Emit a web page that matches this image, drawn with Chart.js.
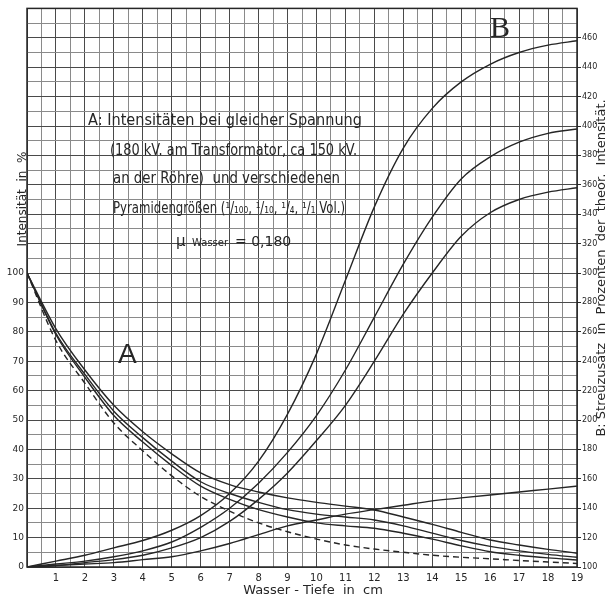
<!DOCTYPE html>
<html>
<head>
<meta charset="utf-8">
<script src="https://cdn.jsdelivr.net/npm/chart.js@4.4.0/dist/chart.umd.min.js"></script>
<style>
  html, body { margin: 0; padding: 0; background: #fff; }
</style>
</head>
<body>
<canvas id="c" width="609" height="600"></canvas>
<script>
// Wasser-Tiefe in cm
const depth = [0, 1, 2, 3, 4, 5, 6, 7, 8, 9, 10, 11, 12, 13, 14, 15, 16, 17, 18, 19];

// A: Intensität in % (linke Achse)
const intensA1 = [100, 81, 67, 55, 46, 38.5, 32, 28, 25.5, 23.5, 22, 20.7, 19.4, 17, 14.5, 11.8, 9.2, 7.5, 6, 4.7];
const intensA2 = [100, 79.5, 65.5, 53, 44, 36, 29, 25, 22, 19.5, 18, 17, 16, 14, 11.5, 9, 7, 5.5, 4.3, 3.3];
const intensA3 = [100, 79, 64.5, 51.5, 42.5, 34.5, 27.5, 23, 19.5, 17, 15, 14, 13.2, 11.5, 9.5, 7.2, 5.2, 4, 3.1, 2.4];
const intensA4 = [100, 77, 62.5, 49, 39.5, 31, 24, 19, 15, 12, 9.5, 7.5, 6.1, 5, 4, 3.3, 2.8, 2.2, 1.7, 1.2];

// B: Streuzusatz in % der theor. Intensität (rechte Achse)
const streuB1 = [100, 104, 108, 113, 118, 125, 135, 150, 172, 204, 245, 295, 345, 385, 412, 430, 442, 450, 455, 458];
const streuB2 = [100, 102, 104, 107, 111, 117, 127, 140, 157, 178, 203, 234, 270, 306, 338, 364, 379, 389, 395, 398];
const streuB3 = [100, 101, 103, 105, 108, 113, 120, 131, 146, 164, 186, 210, 240, 272, 300, 325, 341, 350, 355, 358];
const streuB4 = [100, 101, 102, 103, 105, 107, 111, 116, 122, 128, 132, 136, 139, 142, 145, 147, 149, 151, 153, 155];

const textLines = [
  'A: Intensitäten bei gleicher Spannung',
  '(180 kV. am Transformator, ca 150 kV.',
  'an der Röhre)  und verschiedenen',
  'Pyramidengrößen (¹/₁₀₀, ¹/₁₀, ¹/₄, ¹/₁ Vol.)'
];

const ink = '#262626';
const pts = vals => vals.map((v, i) => ({ x: depth[i], y: v }));
const curve = (vals, axis, dash) => ({
  data: pts(vals), yAxisID: axis, borderColor: ink, borderWidth: 1.4,
  borderDash: dash || [], pointRadius: 0, fill: false, cubicInterpolationMode: 'monotone'
});

const frameAndText = {
  id: 'frameAndText',
  afterDraw(chart) {
    const { ctx, chartArea: a } = chart;
    ctx.save();
    ctx.strokeStyle = ink; ctx.lineWidth = 1.5;
    ctx.strokeRect(a.left, a.top, a.right - a.left, a.bottom - a.top);
    ctx.fillStyle = ink;
    ctx.textBaseline = 'alphabetic';
    ctx.textAlign = 'left';
    ctx.font = '15px "DejaVu Sans"';
    const lx = [88, 110, 113, 113], ly = [125, 155, 183, 213], lw = [274, 247, 227, 232];
    textLines.forEach((t, i) => ctx.fillText(t, lx[i], ly[i], lw[i]));
    ctx.fillText('μ', 176, 246);
    ctx.font = '10px "DejaVu Sans"';
    ctx.fillText('Wasser', 192, 246);
    ctx.font = '14px "DejaVu Sans"';
    ctx.fillText('= 0,180', 235, 246);
    ctx.font = '28px "Liberation Sans"';
    ctx.fillText('A', 118, 363);
    ctx.font = '30px "Liberation Serif"';
    ctx.fillText('B', 490, 37);
    ctx.font = '13px "DejaVu Sans"';
    ctx.textAlign = 'center';
    ctx.fillText('Wasser - Tiefe  in  cm', 313, 594);
    ctx.save();
    ctx.translate(22, 199); ctx.rotate(-Math.PI / 2);
    ctx.font = '12px "DejaVu Sans"';
    ctx.fillText('Intensität  in  %', 0, 4, 130);
    ctx.restore();
    ctx.save();
    ctx.translate(601, 268); ctx.rotate(-Math.PI / 2);
    ctx.font = '13px "DejaVu Sans"';
    ctx.fillText('B: Streuzusatz  in  Prozenten  der  theor.  Intensität.', 0, 4, 348);
    ctx.restore();
    ctx.restore();
  }
};

new Chart(document.getElementById('c'), {
  type: 'line',
  data: {
    datasets: [
      curve(intensA1, 'yA'), curve(intensA2, 'yA'), curve(intensA3, 'yA'), curve(intensA4, 'yA', [6, 4]),
      curve(streuB1, 'yB'), curve(streuB2, 'yB'), curve(streuB3, 'yB'), curve(streuB4, 'yB')
    ]
  },
  options: {
    responsive: false,
    animation: false,
    layout: { padding: { top: 7 } },
    plugins: { legend: { display: false }, tooltip: { enabled: false } },
    scales: {
      x: {
        type: 'linear', min: 0, max: 19,
        afterFit: s => { s.height = 33; },
        border: { display: false },
        grid: { color: c => Number.isInteger(c.tick.value) ? '#4a4a4a' : '#8a8a8a', lineWidth: 1, drawTicks: false },
        ticks: {
          stepSize: 0.5, autoSkip: false, maxRotation: 0, padding: 5, color: ink,
          font: { family: 'DejaVu Sans', size: 10 },
          callback: v => (Number.isInteger(v) && v > 0 ? v : '')
        }
      },
      yA: {
        type: 'linear', position: 'left', min: 0, max: 190,
        afterFit: s => { s.width = 27; },
        border: { display: false },
        grid: { color: c => c.tick.value % 10 === 0 ? '#4a4a4a' : '#8a8a8a', lineWidth: 1, drawTicks: false },
        ticks: {
          stepSize: 5, autoSkip: false, padding: 3, color: ink,
          font: { family: 'DejaVu Sans', size: 9 },
          callback: v => (v % 10 === 0 && v <= 100 ? v : '')
        }
      },
      yB: {
        type: 'linear', position: 'right', min: 100, max: 480,
        afterFit: s => { s.width = 32; },
        border: { display: false },
        grid: {
          drawOnChartArea: false, drawTicks: true, tickLength: 4,
          color: c => (c.tick.value % 20 === 0 && c.tick.value <= 460 ? ink : 'rgba(0,0,0,0)')
        },
        ticks: {
          stepSize: 10, autoSkip: false, padding: 1, color: ink,
          font: { family: 'DejaVu Sans', size: 8 },
          callback: v => (v % 20 === 0 && v <= 460 ? v : '')
        }
      }
    }
  },
  plugins: [frameAndText]
});
</script>
</body>
</html>
